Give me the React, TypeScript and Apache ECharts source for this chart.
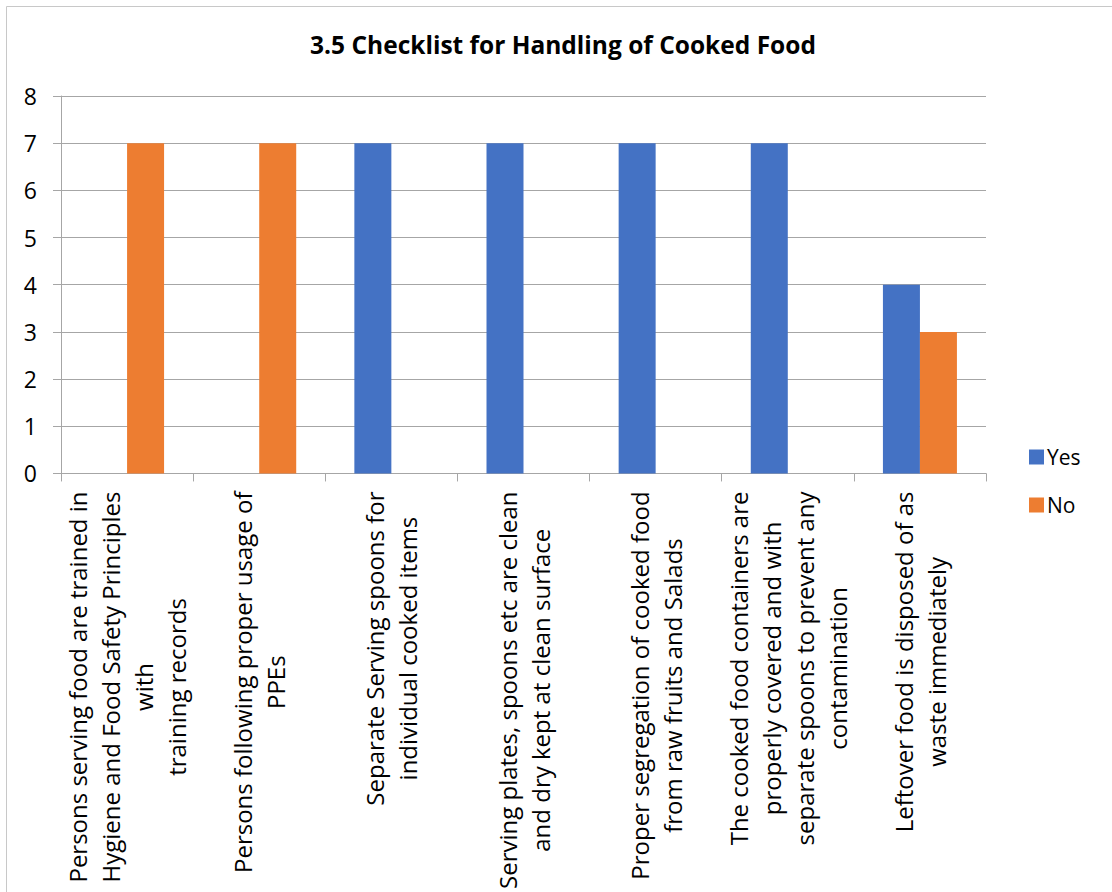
import React, { useEffect, useRef } from "react";
import * as echarts from "echarts";

const TITLE = "3.5 Checklist for Handling of Cooked Food";
const categories: string[] = [
  "Persons serving food are trained in\nHygiene and Food Safety Principles\nwith\ntraining records",
  "Persons following proper usage of\nPPEs",
  "Separate Serving spoons for\nindividual cooked items",
  "Serving plates, spoons etc are clean\nand dry kept at clean surface",
  "Proper segregation of cooked food\nfrom raw fruits and Salads",
  "The cooked food containers are\nproperly covered and with\nseparate spoons to prevent any\ncontamination",
  "Leftover food is disposed of as\nwaste immediately",
];
const yesValues: number[] = [0, 0, 7, 7, 7, 7, 4];
const noValues: number[] = [7, 7, 0, 0, 0, 0, 3];
const yTicks = { min: 0, max: 8, interval: 1 };

const FONT = "'Open Sans', sans-serif";
const GRID_COLOR = "#a6a6a6";

export default function App() {
  const ref = useRef<HTMLDivElement>(null);
  useEffect(() => {
    document.body.style.margin = "0";
    document.body.style.overflow = "hidden";
    document.documentElement.style.overflow = "hidden";
    if (!ref.current) return;
    const chart = echarts.init(ref.current, undefined, { renderer: "svg" });
    chart.setOption({
      animation: false,
      backgroundColor: "#ffffff",
      textStyle: { fontFamily: FONT },
      title: {
        text: TITLE,
        left: 558,
        top: 27,
        textAlign: "center",
        textStyle: { fontFamily: FONT, fontWeight: "bold", fontSize: 24.5, color: "#000" },
      },
      legend: {
        orient: "vertical",
        left: 1024,
        top: 440,
        itemWidth: 15,
        itemHeight: 15,
        itemGap: 24,
        icon: "rect",
        textStyle: { fontFamily: FONT, fontSize: 21, color: "#000", lineHeight: 24, padding: [0, 0, 0, -2] },
        data: ["Yes", "No"],
      },
      grid: { left: 61, right: 126, top: 96, bottom: 415, containLabel: false },
      xAxis: {
        type: "category",
        data: categories,
        axisLine: { lineStyle: { color: GRID_COLOR, width: 1 } },
        axisTick: { show: true, length: 8, lineStyle: { color: GRID_COLOR } },
        axisLabel: {
          interval: 0,
          rotate: 90,
          margin: 18,
          formatter: (v: string) => v.split("\n").map((l) => `{c|${l}}`).join("\n"),
          rich: {
            c: { align: "center", fontFamily: FONT, fontSize: 24, lineHeight: 33, color: "#000" },
          },
        },
      },
      yAxis: {
        type: "value",
        min: yTicks.min,
        max: yTicks.max,
        interval: yTicks.interval,
        axisLine: { show: true, lineStyle: { color: GRID_COLOR, width: 1 } },
        axisTick: { show: true, length: 8, lineStyle: { color: GRID_COLOR } },
        axisLabel: { margin: 24, fontFamily: FONT, fontSize: 23, color: "#000" },
        splitLine: { lineStyle: { color: GRID_COLOR, width: 1 } },
      },
      series: [
        {
          name: "Yes",
          type: "bar",
          data: yesValues,
          itemStyle: { color: "#4472C4" },
          barGap: "0%",
          barCategoryGap: "44%",
        },
        {
          name: "No",
          type: "bar",
          data: noValues,
          itemStyle: { color: "#ED7D31" },
          barGap: "0%",
          barCategoryGap: "44%",
        },
      ],
      graphic: [
        {
          type: "rect",
          shape: { x: 6.5, y: 6.5, width: 1300, height: 1000 },
          style: { fill: "none", stroke: "#c8c8c8", lineWidth: 1 },
          silent: true,
        },
      ],
    });
    return () => chart.dispose();
  }, []);
  return (
    <div style={{ position: "fixed", left: 0, top: 0, width: 1112, height: 892, overflow: "hidden" }}>
      <div ref={ref} style={{ width: 1112, height: 892 }} />
    </div>
  );
}
